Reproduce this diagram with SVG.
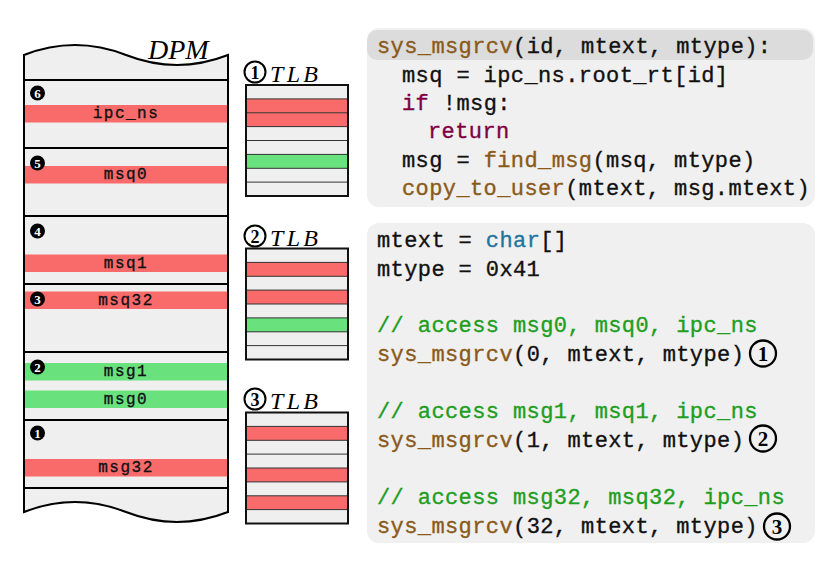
<svg xmlns="http://www.w3.org/2000/svg" width="828" height="562" viewBox="0 0 828 562">
<style>
.bg{fill:#efefef}
.red{fill:#f96b6b}
.grn{fill:#69e27d}
.sep{stroke:#000;stroke-width:2;fill:none}
.ln{stroke:#333;stroke-width:1}
.box{fill:none;stroke:#111;stroke-width:2}
.lbl{font-family:"Liberation Mono","DejaVu Sans Mono",monospace;font-size:16px;letter-spacing:1.5px;fill:#111;stroke:#111;stroke-width:0.35px;text-anchor:middle}
.dot{fill:#000}
.dotn{font-family:"Liberation Serif","DejaVu Serif",serif;font-weight:bold;font-size:13px;fill:#fff;text-anchor:middle}
.ital{font-family:"Liberation Serif","DejaVu Serif",serif;font-style:italic;fill:#000}
.code{font-family:"Liberation Mono","DejaVu Sans Mono",monospace;font-size:22px;letter-spacing:0.4px;fill:#111;stroke:#111;stroke-width:0.35px}
.fn{fill:#8a5a19;stroke:#8a5a19}
.kw{fill:#800040;stroke:#800040}
.ty{fill:#1f74a0;stroke:#1f74a0}
.cm{fill:#1e9e1e;stroke:#1e9e1e}
.ring{fill:none;stroke:#000}
.rnum{font-family:"Liberation Serif","DejaVu Serif",serif;fill:#000;text-anchor:middle}
</style>

<g id="dpm">
  <path class="bg" d="M24,55 C58,41.7 92,41.7 126,55 C160,68.3 194,68.3 228,55 L228,512 C194,525.3 160,525.3 126,512 C92,498.7 58,498.7 24,512 Z"/>
  <rect class="red" x="24" y="105" width="204" height="17.5"/>
  <rect class="red" x="24" y="166" width="204" height="17.5"/>
  <rect class="red" x="24" y="254.5" width="204" height="17.5"/>
  <rect class="red" x="24" y="291.5" width="204" height="17.5"/>
  <rect class="grn" x="24" y="363" width="204" height="17.5"/>
  <rect class="grn" x="24" y="390.5" width="204" height="17.5"/>
  <rect class="red" x="24" y="459" width="204" height="17.5"/>
  <line class="sep" x1="24" y1="80" x2="228" y2="80"/>
  <line class="sep" x1="24" y1="148" x2="228" y2="148"/>
  <line class="sep" x1="24" y1="216" x2="228" y2="216"/>
  <line class="sep" x1="24" y1="284" x2="228" y2="284"/>
  <line class="sep" x1="24" y1="352" x2="228" y2="352"/>
  <line class="sep" x1="24" y1="420" x2="228" y2="420"/>
  <line class="sep" x1="24" y1="488" x2="228" y2="488"/>
  <path class="sep" d="M24,55 C58,41.7 92,41.7 126,55 C160,68.3 194,68.3 228,55 L228,512 C194,525.3 160,525.3 126,512 C92,498.7 58,498.7 24,512 Z"/>
  <text class="ital" x="148" y="59" font-size="28">DPM</text>
  <text class="lbl" x="126" y="118">ipc_ns</text>
  <text class="lbl" x="126" y="179">msq0</text>
  <text class="lbl" x="126" y="267.5">msq1</text>
  <text class="lbl" x="126" y="304.5">msq32</text>
  <text class="lbl" x="126" y="376">msg1</text>
  <text class="lbl" x="126" y="403.5">msg0</text>
  <text class="lbl" x="126" y="472">msg32</text>
  <circle class="dot" cx="37.5" cy="93" r="7.5"/><text class="dotn" x="37.5" y="97.5">6</text>
  <circle class="dot" cx="37.5" cy="163" r="7.5"/><text class="dotn" x="37.5" y="167.5">5</text>
  <circle class="dot" cx="37.5" cy="231" r="7.5"/><text class="dotn" x="37.5" y="235.5">4</text>
  <circle class="dot" cx="37.5" cy="299" r="7.5"/><text class="dotn" x="37.5" y="303.5">3</text>
  <circle class="dot" cx="37.5" cy="367" r="7.5"/><text class="dotn" x="37.5" y="371.5">2</text>
  <circle class="dot" cx="37.5" cy="433" r="7.5"/><text class="dotn" x="37.5" y="437.5">1</text>
</g>

<g id="tlb1">
  <circle class="ring" cx="255" cy="72" r="10.5" stroke-width="2"/>
  <text class="rnum" x="255" y="78.5" font-size="18" font-weight="bold">1</text>
  <text class="ital" x="270" y="82" font-size="24" textLength="48" lengthAdjust="spacing">TLB</text>
  <rect class="bg" x="246" y="85" width="102" height="111"/>
  <rect class="red" x="246" y="98.9" width="102" height="27.7"/>
  <rect class="grn" x="246" y="154.4" width="102" height="13.9"/>
  <line class="ln" x1="246" y1="98.9" x2="348" y2="98.9"/>
  <line class="ln" x1="246" y1="112.8" x2="348" y2="112.8"/>
  <line class="ln" x1="246" y1="126.6" x2="348" y2="126.6"/>
  <line class="ln" x1="246" y1="140.5" x2="348" y2="140.5"/>
  <line class="ln" x1="246" y1="154.4" x2="348" y2="154.4"/>
  <line class="ln" x1="246" y1="168.3" x2="348" y2="168.3"/>
  <line class="ln" x1="246" y1="182.1" x2="348" y2="182.1"/>
  <rect class="box" x="246" y="85" width="102" height="111"/>
</g>

<g id="tlb2">
  <circle class="ring" cx="255" cy="236" r="10.5" stroke-width="2"/>
  <text class="rnum" x="255" y="242.5" font-size="18" font-weight="bold">2</text>
  <text class="ital" x="270" y="246" font-size="24" textLength="48" lengthAdjust="spacing">TLB</text>
  <rect class="bg" x="246" y="248.5" width="102" height="111"/>
  <rect class="red" x="246" y="262.4" width="102" height="13.9"/>
  <rect class="red" x="246" y="290.1" width="102" height="13.9"/>
  <rect class="grn" x="246" y="317.9" width="102" height="13.9"/>
  <line class="ln" x1="246" y1="262.4" x2="348" y2="262.4"/>
  <line class="ln" x1="246" y1="276.3" x2="348" y2="276.3"/>
  <line class="ln" x1="246" y1="290.1" x2="348" y2="290.1"/>
  <line class="ln" x1="246" y1="304" x2="348" y2="304"/>
  <line class="ln" x1="246" y1="317.9" x2="348" y2="317.9"/>
  <line class="ln" x1="246" y1="331.8" x2="348" y2="331.8"/>
  <line class="ln" x1="246" y1="345.6" x2="348" y2="345.6"/>
  <rect class="box" x="246" y="248.5" width="102" height="111"/>
</g>

<g id="tlb3">
  <circle class="ring" cx="255" cy="399" r="10.5" stroke-width="2"/>
  <text class="rnum" x="255" y="405.5" font-size="18" font-weight="bold">3</text>
  <text class="ital" x="270" y="409" font-size="24" textLength="48" lengthAdjust="spacing">TLB</text>
  <rect class="bg" x="246" y="412.5" width="102" height="111"/>
  <rect class="red" x="246" y="426.4" width="102" height="13.9"/>
  <rect class="red" x="246" y="468" width="102" height="13.9"/>
  <rect class="red" x="246" y="495.8" width="102" height="13.9"/>
  <line class="ln" x1="246" y1="426.4" x2="348" y2="426.4"/>
  <line class="ln" x1="246" y1="440.3" x2="348" y2="440.3"/>
  <line class="ln" x1="246" y1="454.1" x2="348" y2="454.1"/>
  <line class="ln" x1="246" y1="468" x2="348" y2="468"/>
  <line class="ln" x1="246" y1="481.9" x2="348" y2="481.9"/>
  <line class="ln" x1="246" y1="495.8" x2="348" y2="495.8"/>
  <line class="ln" x1="246" y1="509.6" x2="348" y2="509.6"/>
  <rect class="box" x="246" y="412.5" width="102" height="111"/>
</g>

<g id="code1">
  <rect x="367" y="28" width="448" height="179" rx="12" fill="#f0f0f0"/>
  <rect x="367" y="30" width="446" height="30" rx="10" fill="#dcdcdc"/>
  <text class="code" x="377" y="53"><tspan class="fn">sys_msgrcv</tspan>(id, mtext, mtype):</text>
  <text class="code" x="402" y="81.5">msq = ipc_ns.root_rt[id]</text>
  <text class="code" x="402" y="110"><tspan class="kw">if</tspan> !msg:</text>
  <text class="code" x="428" y="138"><tspan class="kw">return</tspan></text>
  <text class="code" x="402" y="167">msg = <tspan class="fn">find_msg</tspan>(msq, mtype)</text>
  <text class="code" x="402" y="195"><tspan class="fn">copy_to_user</tspan>(mtext, msg.mtext)</text>
</g>

<g id="code2">
  <rect x="367" y="223" width="448" height="320" rx="12" fill="#f0f0f0"/>
  <text class="code" x="377" y="247">mtext = <tspan class="ty">char</tspan>[]</text>
  <text class="code" x="377" y="275.6">mtype = 0x41</text>
  <text class="code cm" x="377" y="332.4">// access msg0, msq0, ipc_ns</text>
  <text class="code" x="377" y="361"><tspan class="fn">sys_msgrcv</tspan>(0, mtext, mtype)</text>
  <circle class="ring" cx="763" cy="353.5" r="13" stroke-width="2.3"/>
  <text class="rnum" x="763" y="361" font-size="21" font-weight="bold">1</text>
  <text class="code cm" x="377" y="418">// access msg1, msq1, ipc_ns</text>
  <text class="code" x="377" y="447"><tspan class="fn">sys_msgrcv</tspan>(1, mtext, mtype)</text>
  <circle class="ring" cx="763" cy="438.5" r="13" stroke-width="2.3"/>
  <text class="rnum" x="763" y="446" font-size="21" font-weight="bold">2</text>
  <text class="code cm" x="377" y="504">// access msg32, msq32, ipc_ns</text>
  <text class="code" x="377" y="533"><tspan class="fn">sys_msgrcv</tspan>(32, mtext, mtype)</text>
  <circle class="ring" cx="777" cy="526.5" r="13" stroke-width="2.3"/>
  <text class="rnum" x="777" y="534" font-size="21" font-weight="bold">3</text>
</g>
</svg>
